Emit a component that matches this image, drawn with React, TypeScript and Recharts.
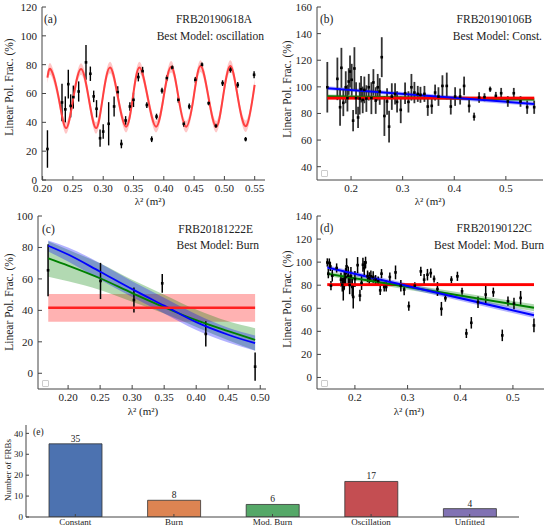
import React from 'react';
import { ComposedChart, BarChart, Bar, Cell, LabelList, XAxis, YAxis, Line, Area, Scatter, ErrorBar } from 'recharts';

// ---- panel (a) FRB20190618A ----
const aX = [0.208, 0.232, 0.2375, 0.2424, 0.2463, 0.2507, 0.2595, 0.2716, 0.2788, 0.2843, 0.289, 0.2948, 0.3, 0.309, 0.318, 0.324, 0.33, 0.337, 0.344, 0.35, 0.358, 0.365, 0.372, 0.38, 0.388, 0.397, 0.405, 0.414, 0.424, 0.433, 0.442, 0.452, 0.463, 0.474, 0.486, 0.497, 0.51, 0.522, 0.535, 0.549];
const aY = [21.5, 53.8, 49, 66.5, 51.4, 57.5, 61.4, 81.6, 73.7, 58, 49.4, 29, 33.6, 39, 51, 61, 25, 41.3, 51, 55.6, 71.4, 75.5, 52, 28.3, 44, 62, 70.7, 78, 55.6, 39, 51, 69.5, 80, 53.3, 37.5, 67.2, 76.5, 66, 28.3, 73];
const aErr = [13, 13, 9, 10, 8, 8, 7, 12, 5, 4, 6, 6, 5, 15, 7, 4, 3, 3, 3, 5, 3, 3, 2, 2, 2, 2, 2, 1.5, 2, 2, 2, 2, 1.5, 1.5, 1.5, 2, 2, 2, 1.5, 2.5];
const aCurveX = [0.208, 0.2138, 0.2265, 0.2386, 0.2507, 0.2634, 0.276, 0.2882, 0.2992, 0.3113, 0.3245, 0.3378, 0.3488, 0.3598, 0.3736, 0.3873, 0.3995, 0.4121, 0.4243, 0.4369, 0.4491, 0.4606, 0.4739, 0.4865, 0.4975, 0.5097, 0.5223, 0.5361, 0.5499];
const aCurveY = [71, 76.5, 57, 36, 57, 77, 57, 36, 57, 78, 57, 37, 57, 78, 57, 37, 57, 78.5, 57, 37, 57, 79, 57, 37, 57, 79, 57, 37.5, 66];
const aBandHalf = 4;

// ---- panel (b) FRB20190106B ----
const bX = [0.154, 0.1735, 0.1787, 0.1813, 0.185, 0.1897, 0.193, 0.1955, 0.198, 0.2013, 0.204, 0.2065, 0.2097, 0.2136, 0.2168, 0.2194, 0.2226, 0.2258, 0.2297, 0.2343, 0.2394, 0.2433, 0.2478, 0.2517, 0.2556, 0.2595, 0.2646, 0.2698, 0.2737, 0.279, 0.2853, 0.2892, 0.2963, 0.3047, 0.3112, 0.317, 0.3228, 0.3293, 0.3345, 0.3422, 0.3487, 0.3564, 0.3629, 0.3694, 0.3771, 0.3855, 0.3933, 0.4017, 0.4114, 0.4191, 0.4288, 0.4385, 0.4482, 0.4586, 0.4696, 0.4806, 0.4909, 0.5038, 0.5154, 0.5284, 0.5413, 0.5549];
const bY = [99.7, 106, 84.7, 114.3, 88, 99.7, 91.5, 104, 111.5, 105.3, 74.6, 113.8, 91.5, 77, 91.2, 98.2, 90.2, 97.7, 91.2, 99.7, 91.5, 103.3, 89.7, 99.7, 96.5, 122.3, 78.1, 89, 70.1, 92.7, 94.7, 88.7, 82.7, 95.2, 88.7, 99.7, 95.7, 94.7, 94, 94.7, 85.2, 85.7, 95.7, 92.7, 100.7, 100.7, 85.2, 92.7, 92.7, 100.7, 85.7, 77.6, 92, 92.2, 98.2, 93.2, 95.2, 89, 95.2, 89, 84.7, 84.7];
const bErr = [19, 16, 14, 15, 10, 12, 10, 10, 12, 12, 8, 16, 12, 8, 12, 10, 10, 10, 10, 10, 12, 10, 10, 10, 10, 15, 15, 10, 12, 10, 8, 8, 10, 8, 8, 10, 8, 6, 6, 6, 7, 6, 6, 7, 8, 10, 6, 7, 6, 7, 5, 3, 4, 3, 2, 3, 4, 4, 4, 4, 5, 5];
const bFitX = [0.154, 0.555];
const bConst = [91.5, 91.5];
const bConstLo = [90.3, 90.3];
const bConstHi = [92.7, 92.7];
const bBurn = [93, 90.4];
const bBurnLo = [91.7, 89.2];
const bBurnHi = [94.3, 91.8];
const bMod = [99, 87.2];
const bModLo = [97.6, 85.6];
const bModHi = [100.4, 88.8];

// ---- panel (c) FRB20181222E ----
const cX = [0.1687, 0.2506, 0.3028, 0.347, 0.415, 0.492];
const cY = [65.5, 58.7, 46.6, 57.2, 25, 4.2];
const cErr = [16.5, 11.5, 8, 6, 8, 9];
const cFitX = [0.169, 0.2, 0.25, 0.3, 0.35, 0.4, 0.45, 0.492];
const cBurn = [73.1, 68.5, 60.4, 51, 42, 33.8, 26.8, 21.2];
const cBurnLo = [61.4, 58.5, 53, 45.5, 38, 29.5, 21, 14.5];
const cBurnHi = [84, 78.5, 70, 59.5, 50, 40.5, 33, 28.6];
const cMod = [81.1, 75.5, 64.6, 53.5, 43, 32.5, 24.5, 19.1];
const cModLo = [77.5, 71, 59.5, 48.5, 38, 27.5, 19.5, 14.4];
const cModHi = [84.5, 80, 70, 58.5, 48, 37.5, 29, 24];
const cConstX = [0.169, 0.492];
const cConst = [41.7, 41.7];
const cConstLo = [32.8, 32.8];
const cConstHi = [50.4, 50.4];

// ---- panel (d) FRB20190122C ----
const dX = [0.1476, 0.1495, 0.1514, 0.1533, 0.1545, 0.157, 0.1653, 0.1735, 0.176, 0.1779, 0.1798, 0.1823, 0.1842, 0.1874, 0.19, 0.1924, 0.1949, 0.1968, 0.2, 0.2051, 0.2095, 0.2126, 0.2152, 0.2177, 0.2202, 0.224, 0.2272, 0.2303, 0.2347, 0.2392, 0.2442, 0.248, 0.2505, 0.2556, 0.2594, 0.2663, 0.2771, 0.2872, 0.2935, 0.3023, 0.3137, 0.3251, 0.3314, 0.3377, 0.344, 0.3503, 0.3567, 0.3642, 0.3718, 0.3832, 0.3946, 0.4034, 0.4116, 0.421, 0.4337, 0.4483, 0.4628, 0.4798, 0.4906, 0.502, 0.5146, 0.5399];
const dY = [99.7, 90, 99.2, 96.3, 79.6, 88.2, 94.9, 84.8, 80.5, 76.7, 84.2, 87.1, 96.3, 88.2, 80.2, 87.7, 78.5, 69.8, 85.4, 97.4, 71, 81.9, 97.7, 94.9, 99.7, 87.7, 86.2, 87.7, 87.1, 84.8, 83.6, 75.6, 90, 78.5, 78.5, 87.1, 91.1, 79.6, 76.2, 61.8, 79.6, 92, 84.8, 89.1, 90.5, 85.4, 76.7, 59.5, 68.7, 84.8, 87.7, 74.7, 38.2, 47.4, 65.2, 71.9, 73.9, 36.5, 66.1, 64.1, 69, 45.1];
const dErr = [3.6, 4, 4, 4, 4, 5, 4, 6, 6, 10, 8, 8, 7, 8, 8, 8, 8, 10, 7, 7, 5, 6, 6, 6, 5, 5, 5, 5, 5, 4, 4, 4, 4, 4, 4, 4, 6, 5, 5, 4, 3, 4, 5, 5, 4, 3, 6, 6, 3, 3, 4, 3, 4, 5, 5, 8, 4, 5, 4, 5, 6, 6];
const dFitX = [0.1476, 0.54];
const dConst = [80.5, 80.5];
const dConstLo = [79, 79];
const dConstHi = [82, 82];
const dBurn = [90, 60.4];
const dBurnLo = [88, 57.4];
const dBurnHi = [92, 63.4];
const dMod = [95.4, 54];
const dModLo = [93.4, 51.5];
const dModHi = [97.4, 56.5];

// ---- panel (e) model counts ----
const models = ['Constant', 'Burn', 'Mod. Burn', 'Oscillation', 'Unfitted'];
const counts = [35, 8, 6, 17, 4];
const modelColors = ['#4C72B0', '#DD8452', '#55A868', '#C44E52', '#8172B3'];

const FONT = "'Liberation Serif', 'DejaVu Serif', serif";
const AX = '#444';

const pts = (xs: number[], ys: number[], es: number[]) => xs.map((x, i) => ({ x, y: ys[i], e: es[i] ?? 0 }));
const line = (xs: number[], ys: number[]) => xs.map((x, i) => ({ x, y: ys[i] }));
const band = (xs: number[], lo: number[], hi: number[]) => xs.map((x, i) => ({ x, band: [lo[i], hi[i]] }));

const aPts = pts(aX, aY, aErr);
const aCurve = line(aCurveX, aCurveY);
const aBand = band(aCurveX, aCurveY.map((v) => v - aBandHalf), aCurveY.map((v) => v + aBandHalf));

const marker = (p: any) => <rect x={p.cx - 1.3} y={p.cy - 1.3} width={2.6} height={2.6} fill="#000" />;

const tickStyle = { fontSize: 11, fontFamily: FONT, fill: '#222' };

function axes(xd: number[], yd: number[], xt: number[], yt: number[], xf: (v: number) => string, yw: number, xh: number, xm: number) {
  return [
    <XAxis key="xb" type="number" dataKey="x" domain={xd} ticks={xt} tickFormatter={xf} allowDataOverflow interval={0}
      height={xh} tickSize={-4} tickMargin={xm} tick={tickStyle} stroke={AX} />,
    <XAxis key="xt" xAxisId="top" orientation="top" type="number" dataKey="x" domain={xd} ticks={xt} allowDataOverflow
      interval={0} height={0} tickSize={-4} tick={false} stroke={AX} />,
    <YAxis key="yl" type="number" dataKey="y" domain={yd} ticks={yt} allowDataOverflow interval={0}
      width={yw} tickSize={-4} tickMargin={9} tick={tickStyle} stroke={AX} />,
    <YAxis key="yr" yAxisId="right" orientation="right" type="number" domain={yd} ticks={yt} allowDataOverflow
      interval={0} width={0} tickSize={-4} tick={false} stroke={AX} />,
  ];
}

const f2 = (v: number) => v.toFixed(2);
const f1 = (v: number) => v.toFixed(1);

function Txt({ x, y, size = 11.5, right = false, center = false, children }: any) {
  const tx = right ? '-100%' : center ? '-50%' : '0';
  return (
    <div style={{ position: 'absolute', left: x, top: y, transform: `translate(${tx}, -50%)`, fontSize: size, lineHeight: 1, whiteSpace: 'nowrap', color: '#222' }}>
      {children}
    </div>
  );
}

function VTxt({ x, y, size = 11.5, children }: any) {
  return (
    <div style={{ position: 'absolute', left: x, top: y, transform: 'translate(-50%, -50%) rotate(-90deg)', fontSize: size, lineHeight: 1, whiteSpace: 'nowrap', color: '#222' }}>
      {children}
    </div>
  );
}

const Box = ({ x, y }: any) => (
  <div style={{ position: 'absolute', left: x, top: y, width: 5, height: 5, border: '1px solid #ccc', borderRadius: 1 }} />
);

const fitBand = (xs: number[], lo: number[], hi: number[], color: string, key: string) => (
  <Area key={key + 'b'} data={band(xs, lo, hi)} dataKey="band" type="monotone" stroke="none" fill={color} fillOpacity={0.3} isAnimationActive={false} />
);
const fitLine = (xs: number[], ys: number[], color: string, w: number, key: string) => (
  <Line key={key + 'l'} data={line(xs, ys)} dataKey="y" type="monotone" stroke={color} strokeWidth={w} dot={false} isAnimationActive={false} />
);

const dataScatter = (data: any[], color: string, sw: number) => (
  <Scatter data={data} dataKey="y" shape={marker} isAnimationActive={false}>
    <ErrorBar dataKey="e" direction="y" width={0} stroke={color} strokeWidth={sw} />
  </Scatter>
);

const lam = 'λ² (m²)';
const ylab = 'Linear Pol. Frac. (%)';

export default function App() {
  const barData = models.map((name, i) => ({ name, count: counts[i] }));
  return (
    <div style={{ position: 'absolute', left: 0, top: 0, width: 550, height: 529, background: '#fff', fontFamily: FONT, overflow: 'hidden' }}>
      {/* (a) */}
      <div style={{ position: 'absolute', left: 0, top: 0 }}>
        <ComposedChart width={275} height={200} margin={{ top: 7, right: 10, bottom: 0, left: 0 }}>
          {axes([0.199, 0.567], [0, 120], [0.2, 0.25, 0.3, 0.35, 0.4, 0.45, 0.5, 0.55], [0, 20, 40, 60, 80, 100, 120], f2, 42, 20, 8)}
          {dataScatter(aPts, '#000', 1.4)}
          <Area data={aBand} dataKey="band" type="natural" stroke="none" fill="#ff0000" fillOpacity={0.22} isAnimationActive={false} />
          <Line data={aCurve} dataKey="y" type="natural" stroke="#ff4040" strokeWidth={2} dot={false} isAnimationActive={false} />
        </ComposedChart>
      </div>

      {/* (b) */}
      <div style={{ position: 'absolute', left: 275, top: 0 }}>
        <ComposedChart width={275} height={200} margin={{ top: 7, right: 7, bottom: 0, left: 0 }}>
          {axes([0.134, 0.572], [30, 160], [0.2, 0.3, 0.4, 0.5], [40, 60, 80, 100, 120, 140, 160], f1, 42, 20, 8)}
          {dataScatter(pts(bX, bY, bErr), '#333', 1.8)}
          {fitBand(bFitX, bBurnLo, bBurnHi, '#008000', 'bg')}
          {fitLine(bFitX, bBurn, '#008000', 2, 'bg')}
          {fitBand(bFitX, bConstLo, bConstHi, '#ff0000', 'br')}
          {fitLine(bFitX, bConst, '#ff0000', 2.6, 'br')}
          {fitBand(bFitX, bModLo, bModHi, '#0000ff', 'bb')}
          {fitLine(bFitX, bMod, '#0000ff', 2, 'bb')}
        </ComposedChart>
      </div>

      {/* (c) */}
      <div style={{ position: 'absolute', left: 0, top: 200 }}>
        <ComposedChart width={275} height={220} margin={{ top: 16, right: 9, bottom: 0, left: 0 }}>
          {axes([0.153, 0.509], [-10, 100], [0.2, 0.25, 0.3, 0.35, 0.4, 0.45, 0.5], [0, 20, 40, 60, 80, 100], f2, 38, 31, 8)}
          {fitBand(cConstX, cConstLo, cConstHi, '#ff0000', 'cr')}
          {fitBand(cFitX, cBurnLo, cBurnHi, '#008000', 'cg')}
          {fitBand(cFitX, cModLo, cModHi, '#0000ff', 'cb')}
          {dataScatter(pts(cX, cY, cErr), '#000', 1.5)}
          {fitLine(cFitX, cBurn, '#008000', 1.8, 'cg')}
          {fitLine(cFitX, cMod, '#0000ff', 1.8, 'cb')}
          {fitLine(cConstX, cConst, '#ff2020', 2.4, 'cr')}
        </ComposedChart>
      </div>

      {/* (d) */}
      <div style={{ position: 'absolute', left: 275, top: 200 }}>
        <ComposedChart width={275} height={220} margin={{ top: 16, right: 6, bottom: 0, left: 0 }}>
          {axes([0.128, 0.559], [-10, 140], [0.2, 0.3, 0.4, 0.5], [0, 20, 40, 60, 80, 100, 120, 140], f1, 42, 31, 8)}
          {dataScatter(pts(dX, dY, dErr), '#000', 1.5)}
          {fitBand(dFitX, dConstLo, dConstHi, '#ff0000', 'dr')}
          {fitLine(dFitX, dConst, '#ff0000', 2.6, 'dr')}
          {fitBand(dFitX, dBurnLo, dBurnHi, '#008000', 'dg')}
          {fitLine(dFitX, dBurn, '#008000', 2, 'dg')}
          {fitBand(dFitX, dModLo, dModHi, '#0000ff', 'db')}
          {fitLine(dFitX, dMod, '#0000ff', 2, 'db')}
        </ComposedChart>
      </div>

      {/* (e) */}
      <div style={{ position: 'absolute', left: 0, top: 420 }}>
        <BarChart width={550} height={109} data={barData} margin={{ top: 5, right: 31, bottom: 0, left: 0 }}>
          <XAxis dataKey="name" interval={0} height={12} tickSize={-3} tickMargin={5} stroke={AX}
            tick={{ fontSize: 9, fontFamily: FONT, fill: '#222' }} />
          <XAxis xAxisId="top" orientation="top" dataKey="name" interval={0} height={0} tickSize={-3} tick={false} stroke={AX} />
          <YAxis type="number" domain={[0, 44]} ticks={[0, 10, 20, 30, 40]} allowDataOverflow interval={0} width={26} tickSize={-3} tickMargin={6}
            stroke={AX} tick={{ fontSize: 9, fontFamily: FONT, fill: '#222' }} />
          <YAxis yAxisId="right" orientation="right" type="number" domain={[0, 44]} ticks={[0, 10, 20, 30, 40]} allowDataOverflow interval={0}
            width={0} tickSize={-3} tick={false} stroke={AX} />
          <Bar dataKey="count" barSize={53} isAnimationActive={false} stroke="#333" strokeWidth={0.8}>
            {barData.map((d, i) => <Cell key={d.name} fill={modelColors[i]} />)}
            <LabelList dataKey="count" position="top" offset={2} style={{ fontSize: 9.5, fontFamily: FONT, fill: '#222' }} />
          </Bar>
        </BarChart>
      </div>

      {/* panel annotations */}
      <Txt x={44} y={20}>(a)</Txt>
      <Txt x={252} y={20} right>FRB20190618A</Txt>
      <Txt x={264} y={37} right>Best Model: oscillation</Txt>
      <Txt x={320} y={20}>(b)</Txt>
      <Txt x={532} y={20} right>FRB20190106B</Txt>
      <Txt x={542} y={37} right>Best Model: Const.</Txt>
      <Txt x={42} y={230}>(c)</Txt>
      <Txt x={253} y={230} right>FRB20181222E</Txt>
      <Txt x={259} y={246} right>Best Model: Burn</Txt>
      <Txt x={320} y={229}>(d)</Txt>
      <Txt x={532} y={229} right>FRB20190122C</Txt>
      <Txt x={544} y={246} right>Best Model: Mod. Burn</Txt>
      <Txt x={33} y={433} size={9.5}>(e)</Txt>

      <VTxt x={10} y={87}>{ylab}</VTxt>
      <VTxt x={288} y={89}>{ylab}</VTxt>
      <VTxt x={10} y={302}>{ylab}</VTxt>
      <VTxt x={288} y={299}>{ylab}</VTxt>
      <VTxt x={8} y={470} size={9}>Number of FRBs</VTxt>

      <Txt x={150} y={201} size={11} center>{lam}</Txt>
      <Txt x={430} y={201} size={11} center>{lam}</Txt>
      <Txt x={143} y={411} size={11} center>{lam}</Txt>
      <Txt x={409} y={411} size={11} center>{lam}</Txt>

      <Box x={321} y={170} />
      <Box x={42} y={380} />
      <Box x={321} y={380} />
    </div>
  );
}
